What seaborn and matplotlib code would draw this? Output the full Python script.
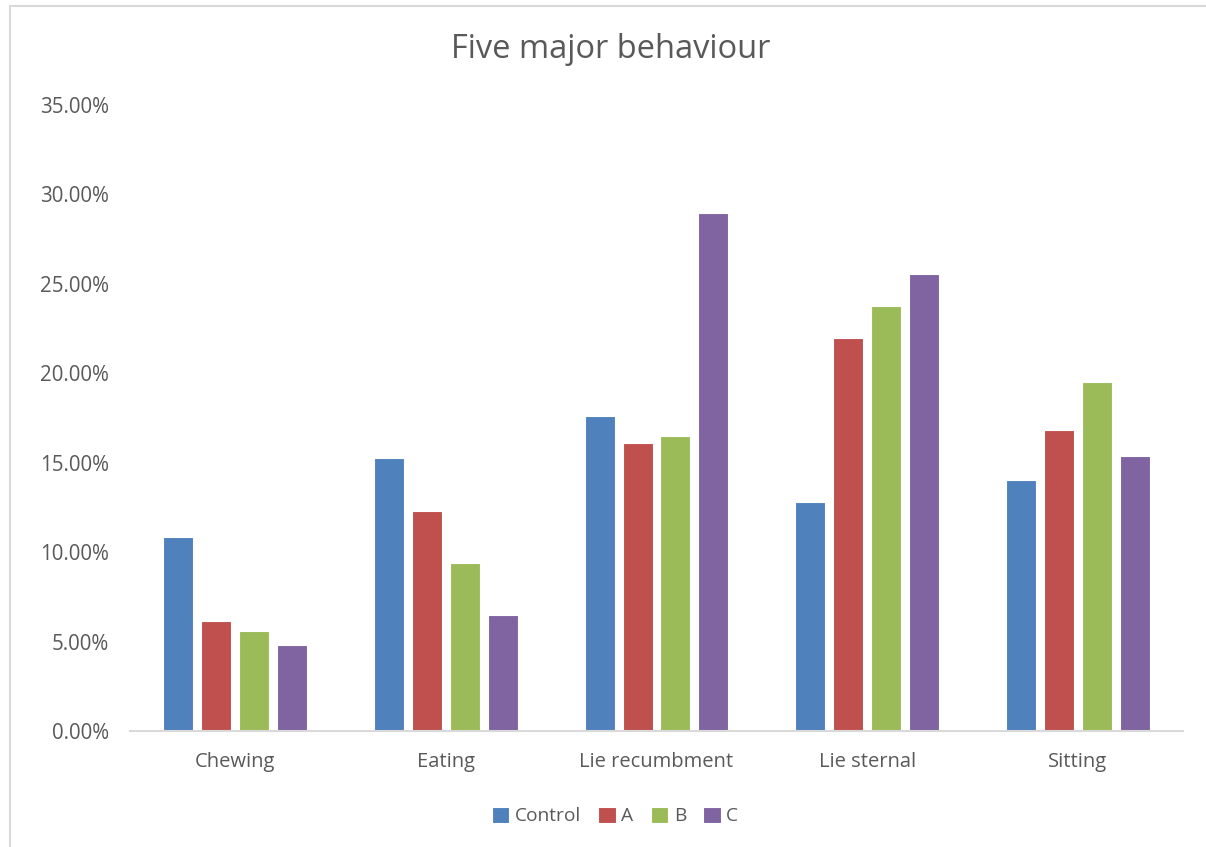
import matplotlib
matplotlib.use("Agg")
import matplotlib.pyplot as plt
from matplotlib.patches import Rectangle
from matplotlib.ticker import PercentFormatter
import seaborn as sns
import pandas as pd

# Values (percent)
behaviours = ["Chewing", "Eating", "Lie recumbment", "Lie sternal", "Sitting"]
groups = ["Control", "A", "B", "C"]
control = [10.85, 15.29, 17.62, 12.80, 14.04]
group_a = [6.15, 12.29, 16.10, 21.98, 16.83]
group_b = [5.59, 9.38, 16.50, 23.77, 19.52]
group_c = [4.79, 6.47, 28.97, 25.56, 15.38]
colors = ["#4F81BD", "#C0504D", "#9BBB59", "#8064A2"]

rows = []
for g, vals in zip(groups, [control, group_a, group_b, group_c]):
    for b, v in zip(behaviours, vals):
        rows.append({"behaviour": b, "group": g, "value": v})
df = pd.DataFrame(rows)

sns.set_style("white")
plt.rcParams["font.family"] = ["Open Sans", "DejaVu Sans"]
text_col = "#595959"

fig = plt.figure(figsize=(12.06, 8.47), dpi=100)
ax = fig.add_axes([130 / 1206, 116 / 847, 1053 / 1206, 626 / 847])

sns.barplot(data=df, x="behaviour", y="value", hue="group", order=behaviours,
            hue_order=groups, palette=colors, saturation=1, width=0.72, gap=0.21,
            edgecolor="white", linewidth=0.8, ax=ax)

ax.set_ylim(0, 35)
ax.set_xlim(-0.5, 4.5)
ax.set_yticks(range(0, 36, 5))
ax.yaxis.set_major_formatter(PercentFormatter(xmax=100, decimals=2))
ax.set_xlabel("")
ax.set_ylabel("")
ax.tick_params(axis="y", length=0, pad=15, labelsize=14.8, labelcolor=text_col)
ax.tick_params(axis="x", length=0, pad=15, labelsize=14.5, labelcolor=text_col)
for side in ["top", "right", "left"]:
    ax.spines[side].set_visible(False)
ax.spines["bottom"].set_color("#d9d9d9")
ax.spines["bottom"].set_linewidth(1.5)

fig.text(611 / 1206, 1 - 50 / 847, "Five major behaviour", fontsize=23.5,
         color=text_col, ha="center", va="center")

sns.move_legend(ax, "center", bbox_to_anchor=(0.4606, -0.136), ncol=4,
                frameon=False, title=None, fontsize=13.8, handlelength=0.9,
                handleheight=0.9, handletextpad=0.3, columnspacing=0.9)
for t in ax.get_legend().get_texts():
    t.set_color(text_col)

# chart border like the spreadsheet frame
fig.patches.append(Rectangle((10 / 1206, -0.1), 1.2, 1.1 - 6 / 847,
                             transform=fig.transFigure, fill=False,
                             edgecolor="#d9d9d9", linewidth=1.5))

fig.savefig("out.png", dpi=100)
